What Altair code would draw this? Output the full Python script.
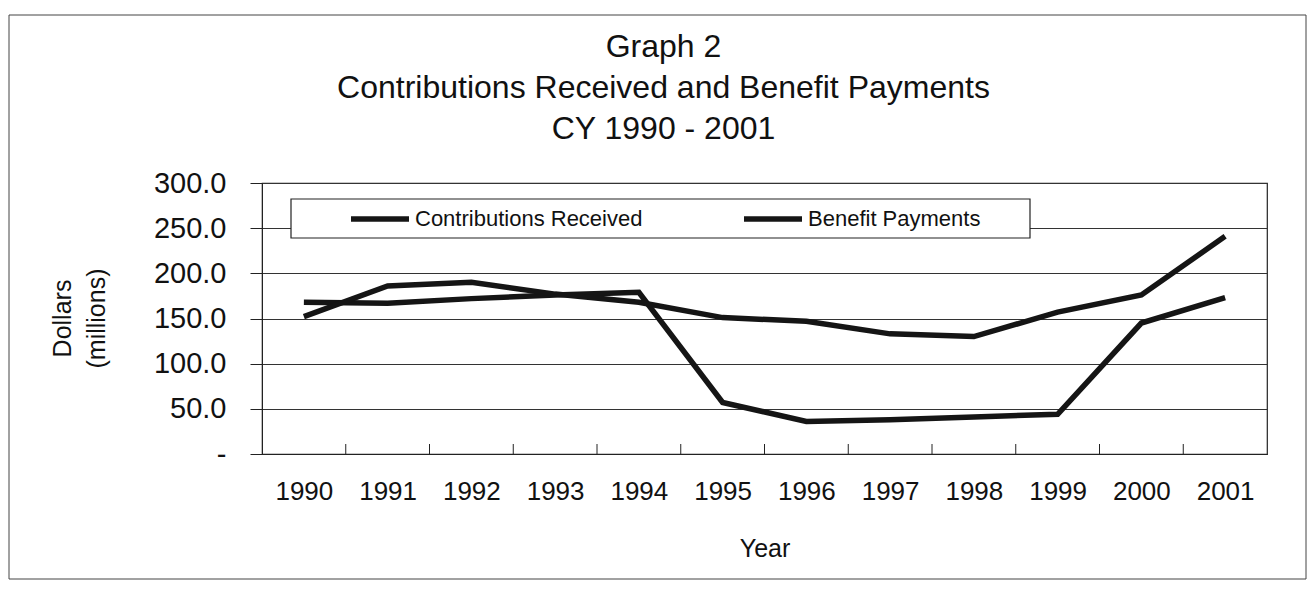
import altair as alt
import pandas as pd

years = [1990, 1991, 1992, 1993, 1994, 1995, 1996, 1997, 1998, 1999, 2000, 2001]
contributions = [168, 167, 172, 176, 179, 57, 36, 38, 41, 44, 145, 173]
benefits = [152, 186, 190, 177, 168, 151, 147, 133, 130, 157, 176, 241]
series_names = ["Contributions Received", "Benefit Payments"]
y_ticks = [0, 50, 100, 150, 200, 250, 300]
boundaries = [y + 0.5 for y in years[:-1]]

rows = []
for yr, c, b in zip(years, contributions, benefits):
    rows.append({"Year": yr, "Series": series_names[0], "Value": c})
    rows.append({"Year": yr, "Series": series_names[1], "Value": b})
df = pd.DataFrame(rows)

FONT = "Liberation Sans, Arial, sans-serif"
W, H = 1005, 271

x_scale = alt.Scale(domain=[1989.5, 2001.5], nice=False, zero=False)
y_scale = alt.Scale(domain=[0, 300], nice=False)

lines = alt.Chart(df).mark_line(strokeWidth=5.5, strokeJoin="miter").encode(
    x=alt.X("Year:Q", scale=x_scale,
            axis=alt.Axis(values=years, format="d", ticks=False, grid=False,
                          labelFontSize=26, labelPadding=24, labelColor="#111",
                          domainColor="#222", domainWidth=1.2,
                          title="Year", titleFontSize=25, titleFontWeight="normal",
                          titlePadding=32, titleColor="#111", labelFlush=False)),
    y=alt.Y("Value:Q", scale=y_scale,
            axis=alt.Axis(values=y_ticks,
                          labelExpr="datum.value == 0 ? '-' : format(datum.value, '.1f')",
                          labelFontSize=29, labelPadding=24, labelColor="#111",
                          tickSize=12, tickColor="#222", domainColor="#222",
                          gridColor="#333", gridWidth=1,
                          title=["Dollars", "(millions)"], titleFontSize=25,
                          titleFontWeight="normal", titleColor="#111",
                          titleLineHeight=34, titleAngle=-90,
                          titleX=-212, titleY=135, titleAlign="center",
                          titleBaseline="top")),
    color=alt.Color("Series:N", scale=alt.Scale(domain=series_names, range=["#151515", "#151515"]),
                    legend=alt.Legend(orient="none", legendX=86, legendY=4,
                                      direction="horizontal", title=None,
                                      symbolType="stroke", symbolSize=3364,
                                      symbolStrokeWidth=5.5, labelFontSize=22,
                                      labelColor="#111", columnPadding=90,
                                      labelOffset=3, padding=0, labelLimit=400)),
)

ticks_df = pd.DataFrame({"b": boundaries})
xticks = alt.Chart(ticks_df).mark_rule(color="#222", strokeWidth=1).encode(
    x=alt.X("b:Q", scale=x_scale),
    y=alt.value(H),
    y2=alt.value(H - 10),
)

dummy = pd.DataFrame({"d": [0]})
legend_box = alt.Chart(dummy).mark_rect(fill="white", stroke="#222", strokeWidth=1.2).encode(
    x=alt.value(29), x2=alt.value(768), y=alt.value(16), y2=alt.value(55)
)
frame = alt.Chart(dummy).mark_rect(fill=None, stroke="#444", strokeWidth=1).encode(
    x=alt.value(-253), x2=alt.value(1044), y=alt.value(-168), y2=alt.value(H + 125)
)

chart = alt.layer(frame, legend_box, xticks, lines).properties(
    width=W, height=H,
    autosize=alt.AutoSizeParams(type="none"),
    padding={"left": 254, "top": 175, "right": 40, "bottom": 128},
    title=alt.TitleParams(
        text=["Graph 2", "Contributions Received and Benefit Payments", "CY 1990 - 2001"],
        fontSize=32, fontWeight="normal", font=FONT, color="#111",
        lineHeight=41, anchor="middle", dx=-101, offset=0, dy=131,
    ),
).configure(font=FONT).configure_view(stroke="#222", strokeWidth=1.2)

chart.save("out.html", embed_options={"renderer": "svg", "actions": False})
